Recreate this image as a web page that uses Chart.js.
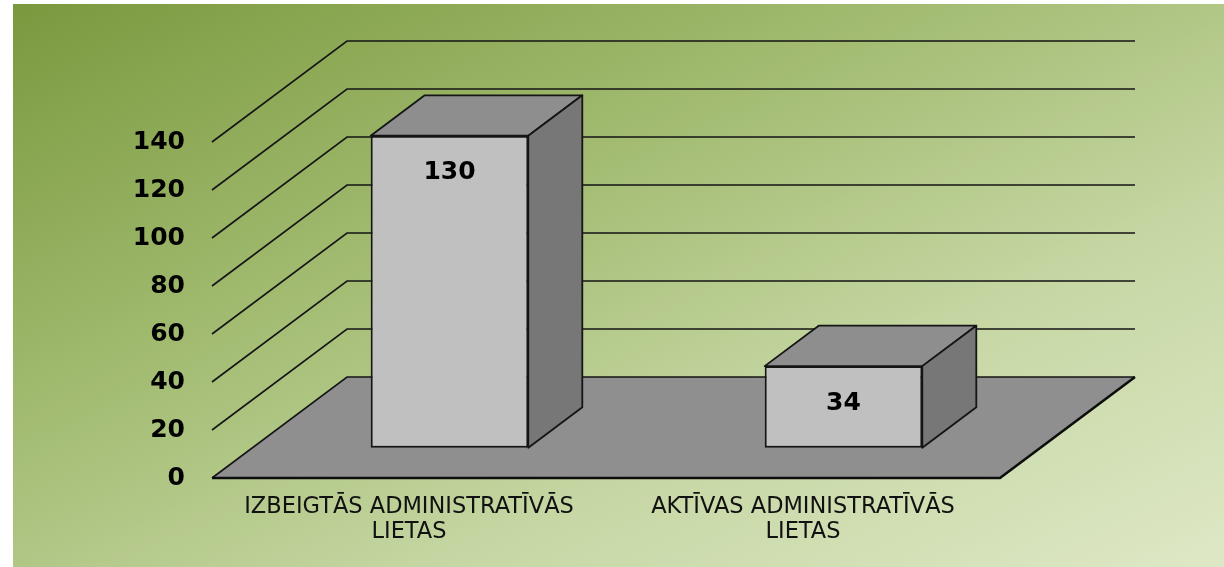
<!DOCTYPE html>
<html lang="lv">
  <head>
    <meta charset="UTF-8" />
    <title>Administratīvās lietas</title>
    <script src="https://cdn.jsdelivr.net/npm/chart.js"></script>
    <style>
      html, body { margin: 0; padding: 0; background: #fff; }
      #wrap { position: relative; width: 1224px; height: 567px; }
      #bg {
        position: absolute; left: 13px; top: 4px; width: 1211px; height: 563px;
        background: linear-gradient(to bottom right, #7a993e 0%, #a3bc72 38%, #c6d7a4 68%, #dee8c6 100%);
      }
      canvas { position: absolute; left: 0; top: 0; }
    </style>
  </head>
  <body>
    <div id="wrap">
      <div id="bg"></div>
      <canvas id="chart" width="1224" height="567"></canvas>
    </div>

    <script>
      // dati
      const categories = [
        ["IZBEIGTĀS ADMINISTRATĪVĀS", "LIETAS"],
        ["AKTĪVAS ADMINISTRATĪVĀS", "LIETAS"],
      ];
      const values = [130, 34];
      const yTicks = [0, 20, 40, 60, 80, 100, 120, 140];

      // 3D dziļums (grīdas nobīde) un stabiņu novietojums tajā
      const DX = 135, DY = -101;
      const BAR_FROM = 0.3, BAR_DEPTH = 0.4;
      const FONT = "'DejaVu Sans', Verdana, sans-serif";

      const box3d = {
        id: "box3d",
        beforeDatasetsDraw(chart) {
          const { ctx, chartArea: a, scales } = chart;
          const y = scales.y;
          const y0 = y.getPixelForValue(0);
          ctx.save();

          // grīda
          ctx.beginPath();
          ctx.moveTo(a.left, y0);
          ctx.lineTo(a.left + DX, y0 + DY);
          ctx.lineTo(a.right + DX, y0 + DY);
          ctx.lineTo(a.right, y0);
          ctx.closePath();
          ctx.fillStyle = "#8f8f8f";
          ctx.fill();

          // režģa līnijas (sāns + aizmugure)
          ctx.strokeStyle = "#151515";
          ctx.lineWidth = 1.6;
          yTicks.forEach((v) => {
            const py = y.getPixelForValue(v);
            ctx.beginPath();
            ctx.moveTo(a.left, py);
            ctx.lineTo(a.left + DX, py + DY);
            ctx.lineTo(a.right + DX, py + DY);
            ctx.stroke();
          });

          // grīdas priekšējā un labā mala
          ctx.lineWidth = 2.6;
          ctx.strokeStyle = "#0d0d0d";
          ctx.beginPath();
          ctx.moveTo(a.left, y0);
          ctx.lineTo(a.right, y0);
          ctx.lineTo(a.right + DX, y0 + DY);
          ctx.stroke();

          // stabiņu augša un sāns
          const ox = DX * BAR_FROM, oy = DY * BAR_FROM;
          const bx = DX * BAR_DEPTH, by = DY * BAR_DEPTH;
          ctx.lineWidth = 1.8;
          ctx.strokeStyle = "#151515";
          ctx.lineJoin = "round";
          chart.getDatasetMeta(0).data.forEach((bar) => {
            const p = bar.getProps(["x", "y", "base", "width"], true);
            const l = p.x - p.width / 2 + ox, r = p.x + p.width / 2 + ox;
            const t = p.y + oy, b = p.base + oy;

            ctx.beginPath();
            ctx.moveTo(l, t);
            ctx.lineTo(l + bx, t + by);
            ctx.lineTo(r + bx, t + by);
            ctx.lineTo(r, t);
            ctx.closePath();
            ctx.fillStyle = "#8e8e8e";
            ctx.fill();
            ctx.stroke();

            ctx.beginPath();
            ctx.moveTo(r, t);
            ctx.lineTo(r + bx, t + by);
            ctx.lineTo(r + bx, b + by);
            ctx.lineTo(r, b);
            ctx.closePath();
            ctx.fillStyle = "#777777";
            ctx.fill();
            ctx.stroke();
          });
          ctx.restore();
        },
        beforeDatasetDraw(chart) {
          chart.ctx.save();
          chart.ctx.translate(DX * BAR_FROM, DY * BAR_FROM);
        },
        afterDatasetDraw(chart) {
          chart.ctx.restore();
        },
        afterDatasetsDraw(chart) {
          const { ctx } = chart;
          ctx.save();
          ctx.font = "bold 25px " + FONT;
          ctx.fillStyle = "#000";
          ctx.textAlign = "center";
          ctx.textBaseline = "middle";
          chart.getDatasetMeta(0).data.forEach((bar, i) => {
            const p = bar.getProps(["x", "y"], true);
            ctx.fillText(values[i], p.x + DX * BAR_FROM, p.y + DY * BAR_FROM + 37);
          });
          ctx.restore();
        },
      };

      const chart = new Chart(document.getElementById("chart"), {
        type: "bar",
        data: {
          labels: categories,
          datasets: [
            {
              data: values,
              backgroundColor: "#c0c0c0",
              borderColor: "#151515",
              borderWidth: 2,
              borderSkipped: false,
              categoryPercentage: 0.8,
              barPercentage: 0.5,
              clip: false,
            },
          ],
        },
        options: {
          responsive: false,
          animation: false,
          layout: { padding: { top: 142, right: 224, left: 0, bottom: 0 } },
          plugins: { legend: { display: false }, tooltip: { enabled: false } },
          scales: {
            x: {
              grid: { display: false },
              border: { display: false },
              ticks: {
                color: "#111",
                font: { family: FONT, size: 22.5, lineHeight: 1.1 },
                padding: 9,
                maxRotation: 0,
                autoSkip: false,
              },
              afterFit: (s) => { s.height = 89; },
            },
            y: {
              min: 0,
              max: 140,
              grid: { display: false },
              border: { display: false },
              ticks: {
                stepSize: 20,
                color: "#000",
                font: { family: FONT, size: 25, weight: "bold" },
                padding: 19,
              },
              afterFit: (s) => { s.width = 212; },
            },
          },
        },
        plugins: [box3d],
      });
    </script>
  </body>
</html>
